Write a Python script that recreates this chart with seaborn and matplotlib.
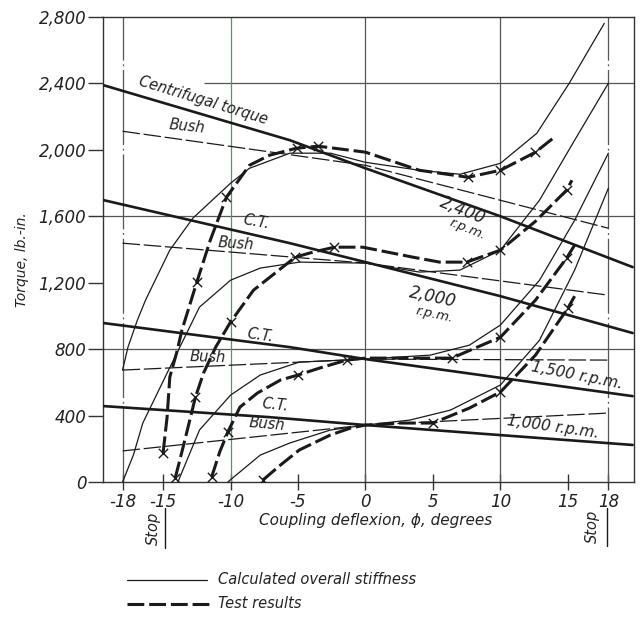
import numpy as np
import pandas as pd
import matplotlib
matplotlib.use("Agg")
import matplotlib.pyplot as plt
import seaborn as sns
from matplotlib.lines import Line2D

sns.set_theme(style="white")
plt.rcParams['font.family'] = ['DejaVu Sans']

# ---------------- data (degrees, lb.-in.) ----------------
# centrifugal torque lines
ct_2400_x = [-19.4, -5.6, 0.0, 10.0, 19.8]
ct_2400_y = [2389, 2058, 1889, 1600, 1294]
ct_2000_x = [-19.4, -5.6, 0.0, 10.0, 19.8]
ct_2000_y = [1697, 1438, 1324, 1119, 897]
ct_1500_x = [-19.4, -5.6, 0.0, 19.8]
ct_1500_y = [957, 812, 740, 517]
ct_1000_x = [-19.4, -7.2, 0.0, 19.8]
ct_1000_y = [457, 391, 343, 223]

# bush lines
bush_2400_x = [-18, 0, 18]
bush_2400_y = [2112, 1907, 1528]
bush_2000_x = [-18, 0, 18]
bush_2000_y = [1438, 1318, 1125]
bush_1500_x = [-18, 0, 18]
bush_1500_y = [674, 740, 734]
bush_1000_x = [-18, 0, 18]
bush_1000_y = [187, 343, 415]

# calculated overall stiffness
st_2400_x = [-18, -17.6, -16.9, -16.3, -14.5, -12.8, -10, -8.6, -5.6, -2.6, 0, 4, 7, 10, 12.7, 15.1, 17.7]
st_2400_y = [674, 812, 975, 1095, 1396, 1588, 1799, 1889, 1980, 1980, 1925, 1877, 1853, 1919, 2100, 2401, 2762]
st_2000_x = [-18, -17.2, -16.5, -14.7, -12.3, -10, -7.8, -4.9, 0, 4, 7, 10, 12.9, 15.5, 18]
st_2000_y = [0, 162, 355, 656, 1053, 1215, 1288, 1324, 1318, 1264, 1276, 1396, 1697, 2058, 2401]
st_1500_x = [-13.9, -12.3, -10, -7.8, -4.9, 0, 4.8, 7.7, 10, 12.9, 15.5, 18]
st_1500_y = [0, 313, 523, 644, 722, 740, 764, 824, 945, 1215, 1576, 1980]
st_1000_x = [-10.2, -7.8, -5.6, -2.6, 0, 3.3, 6.3, 10, 12.9, 15.5, 18]
st_1000_y = [0, 162, 235, 313, 343, 373, 433, 584, 854, 1276, 1769]

# test results (dashed curves) and measured points (x)
ts_2400_x = [-15.0, -14.7, -14.5, -14.0, -13.6, -12.5, -11.5, -10.3, -8.6, -7.1, -5.1, -3.5, 0, 4.0, 7.6, 10, 12.6, 13.9]
ts_2400_y = [174, 391, 632, 776, 915, 1203, 1456, 1715, 1907, 1968, 2010, 2022, 1986, 1877, 1835, 1877, 1986, 2070]
pt_2400_x = [-15.0, -12.5, -10.3, -5.1, -3.5, 7.6, 10, 12.6]
pt_2400_y = [174, 1203, 1715, 2010, 2022, 1835, 1877, 1986]

ts_2000_x = [-14.1, -13.7, -13.2, -12.6, -12.0, -11.1, -10.0, -8.3, -5.2, -3.9, -2.3, -0.2, 3.5, 5.5, 7.5, 10, 12.6, 14.9, 15.3]
ts_2000_y = [24, 150, 313, 511, 656, 812, 963, 1155, 1354, 1384, 1414, 1414, 1354, 1324, 1324, 1396, 1570, 1757, 1817]
pt_2000_x = [-14.1, -12.6, -10.0, -5.2, -2.3, 7.5, 10, 14.9]
pt_2000_y = [24, 511, 963, 1354, 1414, 1324, 1396, 1757]

ts_1500_x = [-11.4, -10.8, -10.2, -9.3, -8.0, -6.3, -5.0, -3.4, -1.4, 0, 3.3, 6.4, 10, 12.6, 14.9, 15.5]
ts_1500_y = [30, 181, 301, 451, 536, 614, 644, 686, 734, 746, 746, 746, 872, 1095, 1348, 1426]
pt_1500_x = [-11.4, -10.2, -5.0, -1.4, 6.4, 10, 14.9]
pt_1500_y = [30, 301, 644, 734, 746, 872, 1348]

ts_1000_x = [-7.6, -6.3, -4.9, -2.6, -1.1, 0, 2.6, 5.0, 7.7, 10, 12.6, 15.0, 15.5]
ts_1000_y = [12, 102, 193, 283, 325, 343, 355, 355, 445, 542, 764, 1047, 1119]
pt_1000_x = [-7.6, 5.0, 10, 15.0]
pt_1000_y = [12, 355, 542, 1047]

x_ticks = [-18, -15, -10, -5, 0, 5, 10, 15, 18]
x_ticklabels = ["-18", "-15", "-10", "-5", "0", "5", "10", "15", "18"]
y_ticks = [0, 400, 800, 1200, 1600, 2000, 2400, 2800]
y_ticklabels = ["0", "400", "800", "1,200", "1,600", "2,000", "2,400", "2,800"]

# ---------------- figure ----------------
W, H = 643, 619
fig = plt.figure(figsize=(W / 100, H / 100), dpi=100)
fig.patch.set_facecolor("white")
ax = fig.add_axes([103 / W, 1 - 482 / H, (634 - 103) / W, (482 - 17) / H])
ax.set_xlim(-19.45, 19.9)
ax.set_ylim(0, 2800)

INK = "#1a1a1a"
GRID = "#555555"
STOPLS = (0, (60, 3, 1.5, 3))
TESTLS = (0, (5.5, 1.6))

# grid lines
ax.axhline(800, color=GRID, lw=0.9, zorder=1)
ax.axhline(1600, color=GRID, lw=0.9, zorder=1)
ax.hlines(2400, -12.0, 19.9, color=GRID, lw=0.9, zorder=1)
ax.axvline(-18, color=GRID, lw=0.9, ls=STOPLS, zorder=1)
ax.axvline(-10, color="#5f8f6f", lw=0.9, zorder=1)
ax.axvline(0, color=GRID, lw=0.9, zorder=1)
ax.axvline(10, color=GRID, lw=0.9, zorder=1)
ax.axvline(18, color=GRID, lw=0.9, ls=STOPLS, zorder=1)

thin = dict(color=INK, lw=0.9, sort=False, estimator=None, ax=ax, zorder=3)
thick = dict(color=INK, lw=1.9, sort=False, estimator=None, ax=ax, zorder=4)
dash = dict(color=INK, lw=2.2, sort=False, estimator=None, ax=ax, zorder=5,
            linestyle=TESTLS)
bushst = dict(color=INK, lw=0.9, sort=False, estimator=None, ax=ax, zorder=3,
              linestyle=(0, (14, 3)))

for xs, ys in [(ct_2400_x, ct_2400_y), (ct_2000_x, ct_2000_y),
               (ct_1500_x, ct_1500_y), (ct_1000_x, ct_1000_y)]:
    sns.lineplot(x=xs, y=ys, **thick)
for xs, ys in [(bush_2400_x, bush_2400_y), (bush_2000_x, bush_2000_y),
               (bush_1500_x, bush_1500_y), (bush_1000_x, bush_1000_y)]:
    sns.lineplot(x=xs, y=ys, **bushst)
for xs, ys in [(st_2400_x, st_2400_y), (st_2000_x, st_2000_y),
               (st_1500_x, st_1500_y), (st_1000_x, st_1000_y)]:
    sns.lineplot(x=xs, y=ys, **thin)
for xs, ys in [(ts_2400_x, ts_2400_y), (ts_2000_x, ts_2000_y),
               (ts_1500_x, ts_1500_y), (ts_1000_x, ts_1000_y)]:
    sns.lineplot(x=xs, y=ys, **dash)
for xs, ys in [(pt_2400_x, pt_2400_y), (pt_2000_x, pt_2000_y),
               (pt_1500_x, pt_1500_y), (pt_1000_x, pt_1000_y)]:
    sns.scatterplot(x=xs, y=ys, marker="x", s=45, color=INK, linewidth=1.0,
                    ax=ax, zorder=6)

# spines / ticks
for s in ax.spines.values():
    s.set_color("#333333")
    s.set_linewidth(1.0)
ax.set_xticks(x_ticks)
ax.set_xticklabels(x_ticklabels)
ax.set_yticks(y_ticks)
ax.set_yticklabels(y_ticklabels)
ax.tick_params(axis="y", direction="out", length=11, width=1.0, color="#333333",
               labelsize=12, pad=1)
ax.tick_params(axis="x", direction="inout", length=12, width=1.0, color="#333333",
               labelsize=12, pad=2)
ax.tick_params(left=True, bottom=True)
for lab in ax.get_xticklabels() + ax.get_yticklabels():
    lab.set_fontstyle("italic")
    lab.set_color("#222222")

ax.set_xlabel("Coupling deflexion, \u03d5, degrees", fontsize=11, style="italic", color="#222222")
ax.xaxis.set_label_coords((376 - 103) / 531, (482 - 521) / 465)
ax.xaxis.label.set_va("center")
ax.set_ylabel("Torque, lb.-in.", fontsize=10, style="italic", color="#222222")
ax.yaxis.set_label_coords((22 - 103) / 531, (482 - 260) / 465)
ax.yaxis.label.set_va("center")

# in-plot annotations
def note(x, y, s, rot, size=10.5):
    ax.text(x, y, s, rotation=rot, ha="center", va="center", fontsize=size,
            style="italic", color="#222222", rotation_mode="anchor", zorder=7)

note(-12.0, 2298, "Centrifugal torque", -17, 10.5)
note(-13.2, 2140, "Bush", -6, 10.5)
note(-8.1, 1564, "C.T.", -10, 10.5)
note(-9.6, 1432, "Bush", -4, 10.5)
note(-7.8, 885, "C.T.", -8, 10.5)
note(-11.7, 752, "Bush", -2, 10.5)
note(-6.7, 463, "C.T.", -6, 10.5)
note(-7.3, 349, "Bush", -5, 10.5)
note(7.2, 1637, "2,400", -22, 12)
note(7.6, 1520, "r.p.m.", -22, 9.5)
note(5.0, 1113, "2,000", -12, 12)
note(5.1, 1010, "r.p.m.", -12, 9.5)
note(15.7, 644, "1,500 r.p.m.", -11, 11)
note(13.9, 331, "1,000 r.p.m.", -8, 11)

# "Stop" marks below the axis
fig.text(153 / W, 1 - 528 / H, "Stop", rotation=90, ha="center", va="center",
         fontsize=10.5, style="italic", color="#222222")
fig.text(592 / W, 1 - 526 / H, "Stop", rotation=90, ha="center", va="center",
         fontsize=10.5, style="italic", color="#222222")
fig.add_artist(Line2D([165 / W, 165 / W], [1 - 508 / H, 1 - 548 / H], color=INK, lw=1.0))
fig.add_artist(Line2D([607 / W, 607 / W], [1 - 508 / H, 1 - 546 / H], color=INK, lw=1.0))

# legend (drawn below chart)
fig.add_artist(Line2D([127 / W, 207 / W], [1 - 580 / H, 1 - 580 / H], color=INK, lw=0.9))
fig.add_artist(Line2D([127 / W, 212 / W], [1 - 604 / H, 1 - 604 / H], color=INK, lw=2.2,
                      linestyle=TESTLS))
fig.text(218 / W, 1 - 580 / H, "Calculated overall stiffness", ha="left", va="center",
         fontsize=10.5, style="italic", color="#222222")
fig.text(218 / W, 1 - 604 / H, "Test results", ha="left", va="center",
         fontsize=10.5, style="italic", color="#222222")

fig.savefig("out.png", dpi=100, facecolor="white")
